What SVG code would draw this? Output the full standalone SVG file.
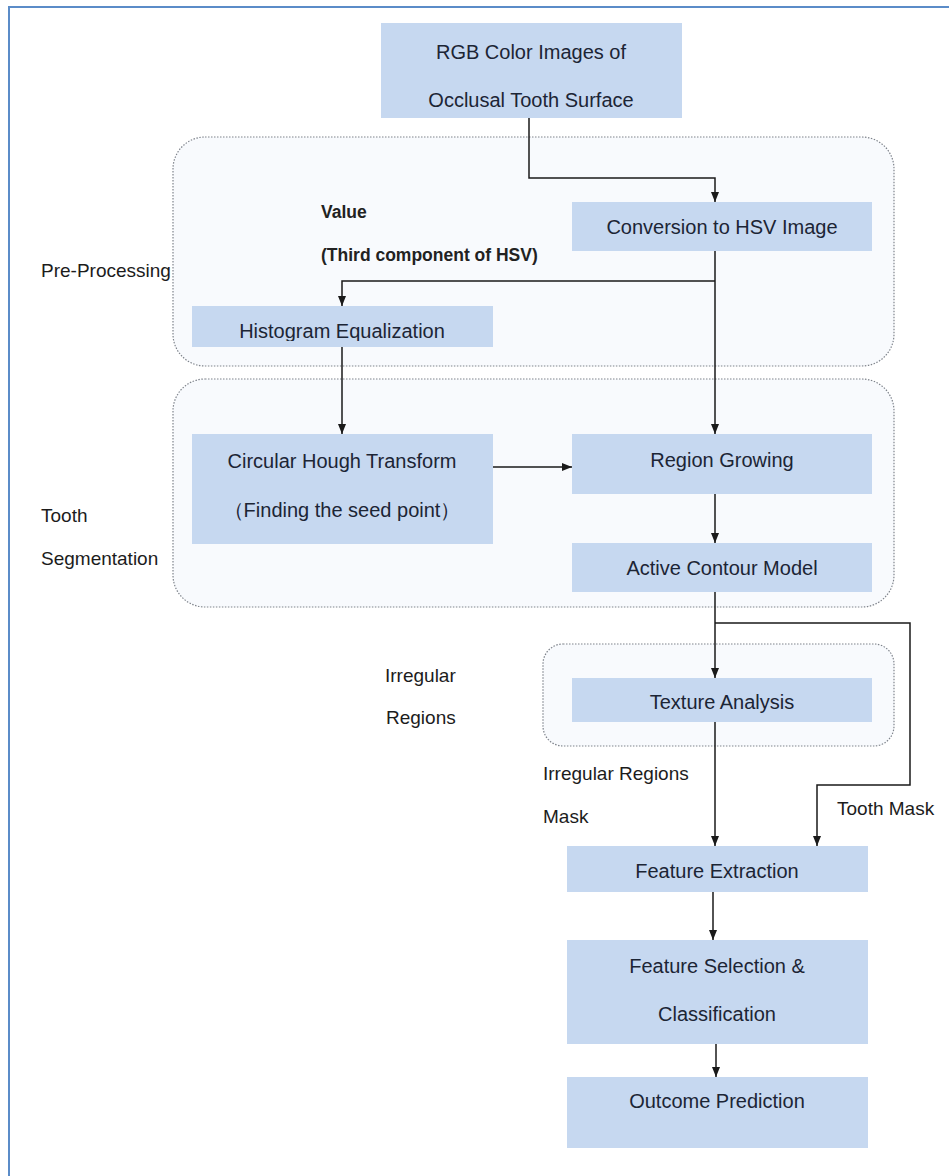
<svg xmlns="http://www.w3.org/2000/svg" width="949" height="1176" viewBox="0 0 949 1176">
<defs>
<style>
.box{fill:#c6d8f0;}
.grp{fill:#f8fafd;stroke:#7f848c;stroke-width:1.2;stroke-dasharray:1.5 1.5;}
.t{font-family:"Liberation Sans",Arial,sans-serif;font-size:20px;fill:#1c2535;text-anchor:middle;}
.l{font-family:"Liberation Sans",Arial,sans-serif;font-size:19px;fill:#1c1c1c;}
.b{font-family:"Liberation Sans",Arial,sans-serif;font-size:17.5px;font-weight:bold;fill:#222;}
.c{fill:none;stroke:#1a1a1a;stroke-width:1.5;}
</style>
<marker id="ah" viewBox="0 0 10 10" refX="10" refY="5" markerWidth="10" markerHeight="10" markerUnits="userSpaceOnUse" orient="auto">
<path d="M0,1 L10,5 L0,9 z" fill="#1a1a1a"/>
</marker>
<clipPath id="hclip"><rect x="192" y="306" width="301" height="35"/></clipPath>
</defs>
<rect x="0" y="0" width="949" height="1176" fill="#ffffff"/>
<path d="M9,1176 L9,7 L949,7" fill="none" stroke="#5b8cc8" stroke-width="2"/>

<g id="group-preprocessing">
<rect class="grp" x="173" y="137" width="721" height="229" rx="32"/>
<text class="l" x="41" y="277">Pre-Processing</text>
</g>
<g id="group-segmentation">
<rect class="grp" x="173" y="379" width="721" height="228" rx="32"/>
<text class="l" x="41" y="522">Tooth</text>
<text class="l" x="41" y="565">Segmentation</text>
</g>
<g id="group-irregular">
<rect class="grp" x="543" y="644" width="351" height="102" rx="20"/>
<text class="l" x="385" y="682">Irregular</text>
<text class="l" x="386" y="724">Regions</text>
</g>

<g id="node-rgb">
<rect class="box" x="381" y="23" width="301" height="95"/>
<text class="t" x="531" y="59">RGB Color Images of</text>
<text class="t" x="531" y="107">Occlusal Tooth Surface</text>
</g>
<g id="node-hsv">
<rect class="box" x="572" y="202" width="300" height="49"/>
<text class="t" x="722" y="234">Conversion to HSV Image</text>
</g>
<g id="node-histogram">
<rect class="box" x="192" y="306" width="301" height="41"/>
<text class="t" x="342" y="338" clip-path="url(#hclip)">Histogram Equalization</text>
</g>
<g id="node-hough">
<rect class="box" x="192" y="434" width="301" height="110"/>
<text class="t" x="342" y="468">Circular Hough Transform</text>
<text class="t" x="342" y="517">（Finding the seed point）</text>
</g>
<g id="node-region">
<rect class="box" x="572" y="434" width="300" height="60"/>
<text class="t" x="722" y="467">Region Growing</text>
</g>
<g id="node-active">
<rect class="box" x="572" y="543" width="300" height="49"/>
<text class="t" x="722" y="575">Active Contour Model</text>
</g>
<g id="node-texture">
<rect class="box" x="572" y="678" width="300" height="44"/>
<text class="t" x="722" y="709">Texture Analysis</text>
</g>
<g id="node-feature-extraction">
<rect class="box" x="567" y="846" width="301" height="46"/>
<text class="t" x="717" y="878">Feature Extraction</text>
</g>
<g id="node-feature-selection">
<rect class="box" x="567" y="940" width="301" height="104"/>
<text class="t" x="717" y="973">Feature Selection &amp;</text>
<text class="t" x="717" y="1021">Classification</text>
</g>
<g id="node-outcome">
<rect class="box" x="567" y="1077" width="301" height="71"/>
<text class="t" x="717" y="1108">Outcome Prediction</text>
</g>

<g id="labels">
<text class="b" x="321" y="218">Value</text>
<text class="b" x="321" y="261">(Third component of HSV)</text>
<text class="l" x="543" y="780">Irregular Regions</text>
<text class="l" x="543" y="823">Mask</text>
<text class="l" x="837" y="815">Tooth Mask</text>
</g>

<g id="connectors">
<path class="c" d="M529,118 L529,178 L715,178 L715,202" marker-end="url(#ah)"/>
<path class="c" d="M715,251 L715,434" marker-end="url(#ah)"/>
<path class="c" d="M715,281 L342,281 L342,306" marker-end="url(#ah)"/>
<path class="c" d="M342,347 L342,434" marker-end="url(#ah)"/>
<path class="c" d="M493,467 L572,467" marker-end="url(#ah)"/>
<path class="c" d="M715,494 L715,543" marker-end="url(#ah)"/>
<path class="c" d="M715,592 L715,678" marker-end="url(#ah)"/>
<path class="c" d="M715,623 L910,623 L910,785 L817,785 L817,846" marker-end="url(#ah)"/>
<path class="c" d="M715,722 L715,846" marker-end="url(#ah)"/>
<path class="c" d="M713,892 L713,940" marker-end="url(#ah)"/>
<path class="c" d="M716,1044 L716,1077" marker-end="url(#ah)"/>
</g>
</svg>
